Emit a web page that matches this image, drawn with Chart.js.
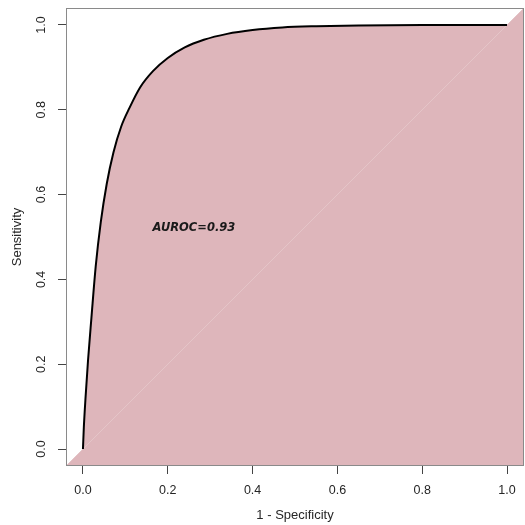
<!DOCTYPE html>
<html>
<head>
<meta charset="utf-8">
<script src="https://cdn.jsdelivr.net/npm/chart.js@4/dist/chart.umd.min.js"></script>
<style>
  html, body { margin: 0; padding: 0; background: #fff; }
  #wrap { width: 525px; height: 525px; position: relative; }
</style>
</head>
<body>
<div id="wrap"><canvas id="roc"></canvas></div>
<script>
// ROC curve
const fpr = [0, 0.002, 0.006, 0.012, 0.02, 0.03, 0.042, 0.056, 0.072, 0.09, 0.11, 0.135, 0.165, 0.2, 0.24, 0.285, 0.34, 0.4, 0.47, 0.55, 0.65, 0.8, 1.0];
const tpr = [0, 0.05, 0.12, 0.21, 0.31, 0.43, 0.535, 0.625, 0.70, 0.76, 0.805, 0.853, 0.891, 0.922, 0.947, 0.965, 0.979, 0.988, 0.994, 0.997, 0.999, 1.0, 1.0];
const tickVals = [0, 0.2, 0.4, 0.6, 0.8, 1.0];
const axisRange = [-0.04, 1.04];
const aurocLabel = "AUROC=0.93";

const FILL = "#deb6bb";
const DIAG = "#e4c5c8";
const BOX = "#8a8a8a";
const TXT = "#262626";
const FONT = "'Liberation Sans', Arial, sans-serif";

const rocPoints = fpr.map((x, i) => ({ x, y: tpr[i] }));
const diagPoints = axisRange.map((v) => ({ x: v, y: v }));

const setTicks = (scale) => {
  scale.ticks = tickVals.map((value) => ({ value }));
};

const decor = {
  id: "decor",
  afterDraw(chart) {
    const { ctx, chartArea: a, scales } = chart;
    ctx.save();
    // box round the plot region
    ctx.strokeStyle = BOX;
    ctx.lineWidth = 1;
    ctx.strokeRect(a.left + 0.5, a.top + 0.5, a.right - a.left - 1, a.bottom - a.top - 1);

    // y tick labels, turned like R does them
    ctx.fillStyle = TXT;
    ctx.font = `12.5px ${FONT}`;
    ctx.textAlign = "center";
    ctx.textBaseline = "middle";
    tickVals.forEach((v) => {
      const py = scales.y.getPixelForValue(v);
      ctx.save();
      ctx.translate(42, py);
      ctx.rotate(-Math.PI / 2);
      ctx.fillText(v.toFixed(1), 0, 0);
      ctx.restore();
    });

    // AUROC note
    ctx.font = `italic bold 11.5px 'DejaVu Sans', sans-serif`;
    ctx.textAlign = "left";
    ctx.fillStyle = "#1a1a1a";
    ctx.fillText(aurocLabel, scales.x.getPixelForValue(0.164), scales.y.getPixelForValue(0.521));
    ctx.restore();
  },
};

new Chart(document.getElementById("roc").getContext("2d"), {
  type: "scatter",
  data: {
    datasets: [
      {
        label: "ROC",
        data: rocPoints,
        showLine: true,
        borderColor: "#000",
        borderWidth: 2,
        backgroundColor: FILL,
        fill: "start",
        pointRadius: 0,
        cubicInterpolationMode: "monotone",
      },
      {
        label: "chance",
        data: diagPoints,
        showLine: true,
        borderColor: DIAG,
        borderWidth: 1,
        backgroundColor: FILL,
        fill: "start",
        pointRadius: 0,
      },
    ],
  },
  options: {
    responsive: true,
    maintainAspectRatio: false,
    animation: false,
    layout: { padding: { top: 8, right: 1, left: 0, bottom: 0 } },
    plugins: {
      legend: { display: false },
      tooltip: { enabled: false },
      filler: { drawTime: "beforeDatasetsDraw" },
    },
    scales: {
      x: {
        type: "linear",
        min: axisRange[0],
        max: axisRange[1],
        afterBuildTicks: setTicks,
        afterFit: (s) => { s.height = 59; },
        border: { display: false },
        grid: { drawOnChartArea: false, drawTicks: true, tickLength: 8, color: "#444" },
        ticks: {
          padding: 9,
          color: TXT,
          font: { family: FONT, size: 12.5 },
          callback: (v) => Number(v).toFixed(1),
          maxRotation: 0,
          autoSkip: false,
        },
        title: {
          display: true,
          text: "1 - Specificity",
          color: TXT,
          font: { family: FONT, size: 13 },
          padding: { top: 0, bottom: 2 },
        },
      },
      y: {
        type: "linear",
        min: axisRange[0],
        max: axisRange[1],
        afterBuildTicks: setTicks,
        afterFit: (s) => { s.width = 66; },
        border: { display: false },
        grid: { drawOnChartArea: false, drawTicks: true, tickLength: 8, color: "#444" },
        ticks: { display: false, autoSkip: false },
        title: {
          display: true,
          text: "Sensitivity",
          color: TXT,
          font: { family: FONT, size: 13 },
          padding: { top: 10, bottom: 0 },
        },
      },
    },
  },
  plugins: [decor],
});
</script>
</body>
</html>
